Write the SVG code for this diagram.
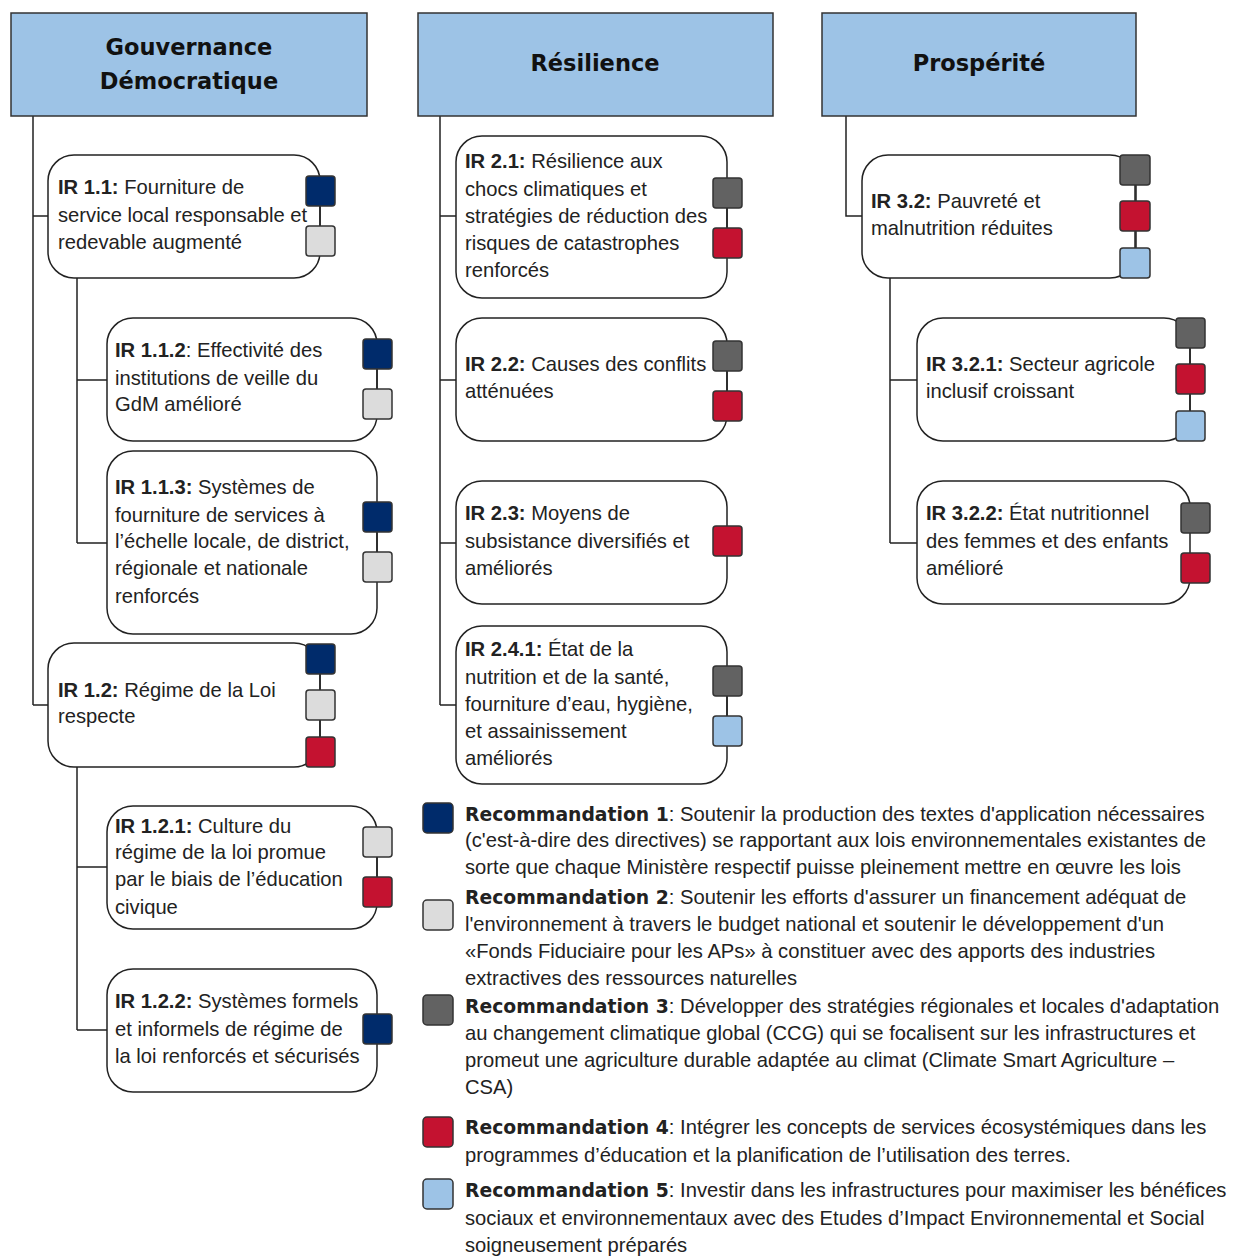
<svg xmlns="http://www.w3.org/2000/svg" width="1242" height="1256" viewBox="0 0 1242 1256">
<style>
.hdr{fill:#9dc3e6;stroke:#333;stroke-width:1.5}
.ht{font-family:"DejaVu Sans",sans-serif;font-weight:bold;font-size:22.5px;fill:#111;text-anchor:middle}
.nd{fill:#fff;stroke:#222;stroke-width:1.5}
.t{font-family:"Liberation Sans",Arial,sans-serif;font-size:20.2px;fill:#222}
.b{font-weight:bold}
.lt{font-family:"Liberation Sans",Arial,sans-serif;font-size:20.2px;fill:#222}
.lb{font-family:"DejaVu Sans",sans-serif;font-weight:bold;font-size:18.8px}
.ln{stroke:#222;stroke-width:1.5;fill:none}
.sq{stroke:#333;stroke-width:1.5}
.c1{fill:#002b6b}.c2{fill:#dcdcdc}.c3{fill:#626262}.c4{fill:#c41230}.c5{fill:#9dc3e6}
</style>

<g id="connectors">
<path class="ln" d="M33,116V705M33,216H48M33,705H48"/>
<path class="ln" d="M77,278V543M77,380H107M77,543H107"/>
<path class="ln" d="M77,767V1030M77,867H107M77,1030H107"/>
<path class="ln" d="M440,116V705M440,216H456M440,380H456M440,543H456M440,705H456"/>
<path class="ln" d="M846,116V216H862"/>
<path class="ln" d="M890,278V543M890,380H917M890,543H917"/>
</g>

<g id="h1"><rect class="hdr" x="11" y="13" width="356" height="103"/>
<text class="ht" x="189" y="55">Gouvernance</text><text class="ht" x="189" y="89">Démocratique</text></g>
<g id="h2"><rect class="hdr" x="418" y="13" width="355" height="103"/>
<text class="ht" x="595" y="71">Résilience</text></g>
<g id="h3"><rect class="hdr" x="822" y="13" width="314" height="103"/>
<text class="ht" x="979" y="71">Prospérité</text></g>

<g id="ir11"><rect class="nd" x="48" y="155" width="272" height="123" rx="26"/>
<path class="ln" d="M320,206V226"/>
<rect class="sq c1" x="306" y="176" width="29" height="30" rx="3"/><rect class="sq c2" x="306" y="226" width="29" height="30" rx="3"/>
<text class="t" x="58"><tspan x="58" y="194"><tspan class="b">IR 1.1:</tspan> Fourniture de</tspan><tspan x="58" y="222">service local responsable et</tspan><tspan x="58" y="249">redevable augmenté</tspan></text></g>

<g id="ir112"><rect class="nd" x="107" y="318" width="270" height="123" rx="26"/>
<path class="ln" d="M377,369V389"/>
<rect class="sq c1" x="363" y="339" width="29" height="30" rx="3"/><rect class="sq c2" x="363" y="389" width="29" height="30" rx="3"/>
<text class="t"><tspan x="115" y="357"><tspan class="b">IR 1.1.2</tspan>: Effectivité des</tspan><tspan x="115" y="385">institutions de veille du</tspan><tspan x="115" y="411">GdM amélioré</tspan></text></g>

<g id="ir113"><rect class="nd" x="107" y="451" width="270" height="183" rx="26"/>
<path class="ln" d="M377,532V552"/>
<rect class="sq c1" x="363" y="502" width="29" height="30" rx="3"/><rect class="sq c2" x="363" y="552" width="29" height="30" rx="3"/>
<text class="t"><tspan x="115" y="494"><tspan class="b">IR 1.1.3:</tspan> Systèmes de</tspan><tspan x="115" y="522">fourniture de services à</tspan><tspan x="115" y="548">l’échelle locale, de district,</tspan><tspan x="115" y="575">régionale et nationale</tspan><tspan x="115" y="603">renforcés</tspan></text></g>

<g id="ir12"><rect class="nd" x="48" y="643" width="272" height="124" rx="26"/>
<path class="ln" d="M320,674V737"/>
<rect class="sq c1" x="306" y="644" width="29" height="30" rx="3"/><rect class="sq c2" x="306" y="690" width="29" height="30" rx="3"/><rect class="sq c4" x="306" y="737" width="29" height="30" rx="3"/>
<text class="t"><tspan x="58" y="697"><tspan class="b">IR 1.2:</tspan> Régime de la Loi</tspan><tspan x="58" y="723">respecte</tspan></text></g>

<g id="ir121"><rect class="nd" x="107" y="806" width="270" height="123" rx="26"/>
<path class="ln" d="M377,857V877"/>
<rect class="sq c2" x="363" y="827" width="29" height="30" rx="3"/><rect class="sq c4" x="363" y="877" width="29" height="30" rx="3"/>
<text class="t"><tspan x="115" y="833"><tspan class="b">IR 1.2.1:</tspan> Culture du</tspan><tspan x="115" y="859">régime de la loi promue</tspan><tspan x="115" y="886">par le biais de l’éducation</tspan><tspan x="115" y="914">civique</tspan></text></g>

<g id="ir122"><rect class="nd" x="107" y="969" width="270" height="123" rx="26"/>
<rect class="sq c1" x="363" y="1014" width="29" height="30" rx="3"/>
<text class="t"><tspan x="115" y="1008"><tspan class="b">IR 1.2.2:</tspan> Systèmes formels</tspan><tspan x="115" y="1036">et informels de régime de</tspan><tspan x="115" y="1063">la loi renforcés et sécurisés</tspan></text></g>

<g id="ir21"><rect class="nd" x="456" y="136" width="271" height="162" rx="26"/>
<path class="ln" d="M727,208V228"/>
<rect class="sq c3" x="713" y="178" width="29" height="30" rx="3"/><rect class="sq c4" x="713" y="228" width="29" height="30" rx="3"/>
<text class="t"><tspan x="465" y="168"><tspan class="b">IR 2.1:</tspan> Résilience aux</tspan><tspan x="465" y="196">chocs climatiques et</tspan><tspan x="465" y="223">stratégies de réduction des</tspan><tspan x="465" y="250">risques de catastrophes</tspan><tspan x="465" y="277">renforcés</tspan></text></g>

<g id="ir22"><rect class="nd" x="456" y="318" width="271" height="123" rx="26"/>
<path class="ln" d="M727,371V391"/>
<rect class="sq c3" x="713" y="341" width="29" height="30" rx="3"/><rect class="sq c4" x="713" y="391" width="29" height="30" rx="3"/>
<text class="t"><tspan x="465" y="371"><tspan class="b">IR 2.2:</tspan> Causes des conflits</tspan><tspan x="465" y="398">atténuées</tspan></text></g>

<g id="ir23"><rect class="nd" x="456" y="481" width="271" height="123" rx="26"/>
<rect class="sq c4" x="713" y="526" width="29" height="30" rx="3"/>
<text class="t"><tspan x="465" y="520"><tspan class="b">IR 2.3:</tspan> Moyens de</tspan><tspan x="465" y="548">subsistance diversifiés et</tspan><tspan x="465" y="575">améliorés</tspan></text></g>

<g id="ir241"><rect class="nd" x="456" y="626" width="271" height="158" rx="26"/>
<path class="ln" d="M727,696V716"/>
<rect class="sq c3" x="713" y="666" width="29" height="30" rx="3"/><rect class="sq c5" x="713" y="716" width="29" height="30" rx="3"/>
<text class="t"><tspan x="465" y="656"><tspan class="b">IR 2.4.1:</tspan> État de la</tspan><tspan x="465" y="684">nutrition et de la santé,</tspan><tspan x="465" y="711">fourniture d’eau, hygiène,</tspan><tspan x="465" y="738">et assainissement</tspan><tspan x="465" y="765">améliorés</tspan></text></g>

<g id="ir32"><rect class="nd" x="862" y="155" width="274" height="123" rx="26"/>
<path class="ln" d="M1135,185V248"/>
<rect class="sq c3" x="1120" y="155" width="30" height="30" rx="3"/><rect class="sq c4" x="1120" y="201" width="30" height="30" rx="3"/><rect class="sq c5" x="1120" y="248" width="30" height="30" rx="3"/>
<text class="t"><tspan x="871" y="208"><tspan class="b">IR 3.2:</tspan> Pauvreté et</tspan><tspan x="871" y="235">malnutrition réduites</tspan></text></g>

<g id="ir321"><rect class="nd" x="917" y="318" width="273" height="123" rx="26"/>
<path class="ln" d="M1190,348V411"/>
<rect class="sq c3" x="1176" y="318" width="29" height="30" rx="3"/><rect class="sq c4" x="1176" y="364" width="29" height="30" rx="3"/><rect class="sq c5" x="1176" y="411" width="29" height="30" rx="3"/>
<text class="t"><tspan x="926" y="371"><tspan class="b">IR 3.2.1:</tspan> Secteur agricole</tspan><tspan x="926" y="398">inclusif croissant</tspan></text></g>

<g id="ir322"><rect class="nd" x="917" y="481" width="273" height="123" rx="26"/>
<rect class="sq c3" x="1181" y="503" width="29" height="30" rx="3"/><rect class="sq c4" x="1181" y="553" width="29" height="30" rx="3"/>
<text class="t"><tspan x="926" y="520"><tspan class="b">IR 3.2.2:</tspan> État nutritionnel</tspan><tspan x="926" y="548">des femmes et des enfants</tspan><tspan x="926" y="575">amélioré</tspan></text></g>

<g id="legend">
<rect class="sq c1" x="423" y="803" width="30" height="30" rx="4"/>
<rect class="sq c2" x="423" y="900" width="30" height="30" rx="4"/>
<rect class="sq c3" x="423" y="995" width="30" height="30" rx="4"/>
<rect class="sq c4" x="423" y="1117" width="30" height="30" rx="4"/>
<rect class="sq c5" x="423" y="1179" width="30" height="30" rx="4"/>
<text class="lt"><tspan x="465" y="821"><tspan class="lb">Recommandation 1</tspan>: Soutenir la production des textes d'application nécessaires</tspan><tspan x="465" y="847">(c'est-à-dire des directives) se rapportant aux lois environnementales existantes de</tspan><tspan x="465" y="874">sorte que chaque Ministère respectif puisse pleinement mettre en œuvre les lois</tspan></text>
<text class="lt"><tspan x="465" y="904"><tspan class="lb">Recommandation 2</tspan>: Soutenir les efforts d'assurer un financement adéquat de</tspan><tspan x="465" y="931">l'environnement à travers le budget national et soutenir le développement d'un</tspan><tspan x="465" y="958">«Fonds Fiduciaire pour les APs» à  constituer avec des apports des industries</tspan><tspan x="465" y="985">extractives des ressources naturelles</tspan></text>
<text class="lt"><tspan x="465" y="1013"><tspan class="lb">Recommandation 3</tspan>: Développer des stratégies régionales et locales d'adaptation</tspan><tspan x="465" y="1040">au changement climatique global (CCG) qui se focalisent sur les infrastructures et</tspan><tspan x="465" y="1067">promeut une agriculture durable adaptée au climat (Climate Smart Agriculture –</tspan><tspan x="465" y="1094">CSA)</tspan></text>
<text class="lt"><tspan x="465" y="1134"><tspan class="lb">Recommandation 4</tspan>: Intégrer les concepts de services écosystémiques dans les</tspan><tspan x="465" y="1162">programmes d’éducation et la planification de l’utilisation des terres.</tspan></text>
<text class="lt"><tspan x="465" y="1197"><tspan class="lb">Recommandation 5</tspan>: Investir dans les infrastructures pour maximiser les bénéfices</tspan><tspan x="465" y="1225">sociaux et environnementaux avec des Etudes d’Impact Environnemental et Social</tspan><tspan x="465" y="1252">soigneusement préparés</tspan></text>
</g>
</svg>
